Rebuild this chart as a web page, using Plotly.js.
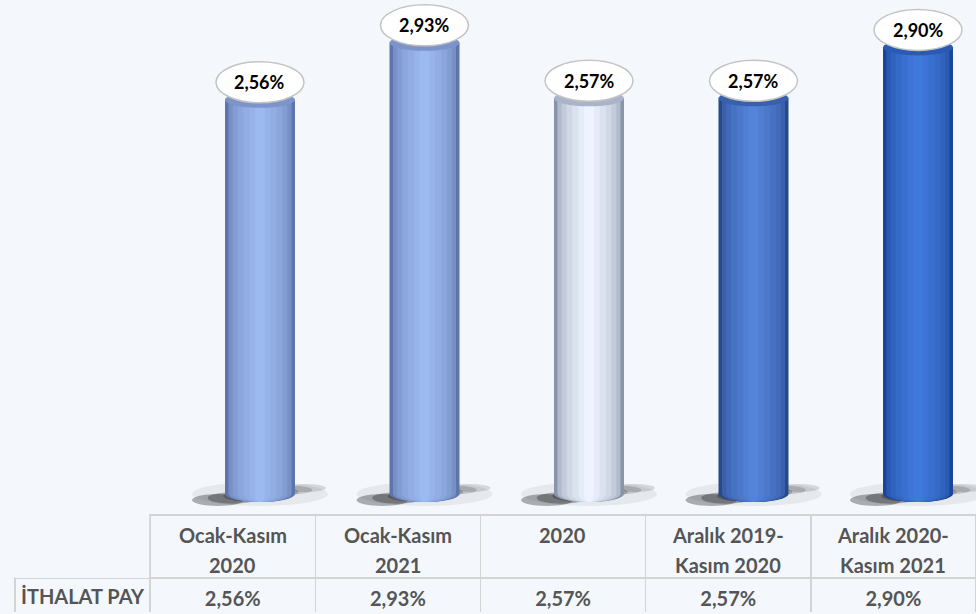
<!DOCTYPE html>
<html>
<head>
<meta charset="utf-8">
<script src="https://cdn.plot.ly/plotly-3.0.1.min.js"></script>
<style>html,body{margin:0;padding:0;background:#f4f8fd;}#chart{width:976px;height:614px;}</style>
</head>
<body>
<div id="chart"></div>
<script>
// ---- data ----
const categories = ['Ocak-Kasım<br>2020', 'Ocak-Kasım<br>2021', '2020', 'Aralık 2019-<br>Kasım 2020', 'Aralık 2020-<br>Kasım 2021'];
const values = [2.56, 2.93, 2.57, 2.57, 2.90];
const rowLabel = 'İTHALAT PAY';

// ---- styles ----
const edgeColors   = ['#5d75aa', '#5d75aa', '#8894aa', '#28488a', '#1b4596'];
const centerColors = ['#9dbaf0', '#9dbaf0', '#eef3ff', '#5483da', '#4079dc'];
const capColors    = ['#7c94ca', '#7c94ca', '#a9b4c9', '#3960ad', '#2a5ab6'];
const BG = '#f4f8fd';
const FONT = 'Lato, "Open Sans", sans-serif';
const TXT = '#555555';
const W = 976, H = 614;
const tableLeft = 15, firstCol = 135, colW = 165, headTop = 515, headH = 63, cellH = 35, lineGap = 30;

function hex2rgb(h){h=h.replace('#','');return [0,2,4].map(i=>parseInt(h.substr(i,2),16));}
function mix(a,b,t){const A=hex2rgb(a),B=hex2rgb(b);return 'rgb('+A.map((v,i)=>Math.round(v+(B[i]-v)*t)).join(',')+')';}
const fmt = v => v.toFixed(2).replace('.', ',') + '%';

const idx = categories.map((c, i) => i);
const barWidth = 0.4255;
const layerFracs = [1, 0.9, 0.78, 0.64, 0.48, 0.3, 0.14];

const traces = layerFracs.map((f, k) => {
  const t = k / (layerFracs.length - 1);
  return {
    type: 'bar', x: idx, y: values, width: barWidth * f,
    marker: {color: idx.map(i => mix(edgeColors[i], centerColors[i], Math.sqrt(t))), line: {width: 0}},
    hoverinfo: 'skip', showlegend: false
  };
});

traces.push({
  type: 'table',
  domain: {x: [tableLeft / W, 1], y: [(H - headTop - headH - cellH) / H, (H - headTop) / H]},
  columnwidth: [firstCol].concat(categories.map(() => colW)),
  header: {
    values: [''].concat(categories.map(() => '')),
    align: 'center', height: headH,
    fill: {color: BG},
    line: {color: ['rgba(0,0,0,0)'].concat(categories.map(() => '#d4d4d4')), width: 1.5},
    font: {family: FONT, size: 20, color: TXT}
  },
  cells: {
    values: [['']].concat(values.map(v => ['<b>' + fmt(v) + '</b>'])),
    align: 'center', height: cellH,
    fill: {color: BG},
    line: {color: '#d4d4d4', width: 1.5},
    font: {family: FONT, size: 20, color: TXT}
  }
});

const shapes = [];
const annotations = [];
function ell(i, yv, x0, x1, y0, y1, fill, layer, line) {
  return {type: 'circle', layer: layer, xref: 'x', yref: 'y', xsizemode: 'pixel', ysizemode: 'pixel',
    xanchor: i, yanchor: yv, x0: x0, x1: x1, y0: y0, y1: y1, fillcolor: fill,
    line: line || {width: 0}};
}
// row label of the table
annotations.push({xref: 'paper', yref: 'paper',
  x: (tableLeft + firstCol / 2) / W, y: 1 - (headTop + headH + cellH / 2) / H,
  xanchor: 'center', yanchor: 'middle', showarrow: false,
  text: '<b>' + rowLabel + '</b>', font: {family: FONT, size: 20, color: TXT}});

idx.forEach(i => {
  // soft slanted shadow
  shapes.push(ell(i, 0, -68, 68, -12, 12, 'rgba(0,0,0,0.06)', 'below'));
  for (let s = 0; s < 7; s++) {
    const t = s / 6;
    const cx = -42 + 88 * t, cy = -6 + 12 * t;
    const hw = 26 - 6 * t, hh = 6 - 2 * t;
    shapes.push(ell(i, 0, cx - hw, cx + hw, cy - hh, cy + hh, 'rgba(0,0,0,' + (0.3 - 0.17 * t).toFixed(3) + ')', 'below'));
  }
  // bottom ellipse of cylinder
  layerFracs.forEach((f, k) => {
    const t = k / (layerFracs.length - 1);
    shapes.push(ell(i, 0, -35 * f, 35 * f, -8, 8, mix(edgeColors[i], centerColors[i], Math.sqrt(t)), 'below'));
  });
  // top cap
  shapes.push(ell(i, values[i], -35, 35, -8, 8, capColors[i], 'above'));
  // label ellipse
  shapes.push(ell(i, values[i], -44, 44, -3, 38, '#ffffff', 'above', {color: '#c4c4c4', width: 1.5}));
  annotations.push({x: i, y: values[i], xref: 'x', yref: 'y', yshift: 17.5, showarrow: false,
    text: '<b>' + fmt(values[i]) + '</b>', font: {family: FONT, size: 18, color: '#000000'}});
  // table header text, each line centred
  categories[i].split('<br>').forEach((line, k) => {
    annotations.push({xref: 'paper', yref: 'paper',
      x: (tableLeft + firstCol + colW * i + colW / 2) / W,
      y: 1 - (headTop + 20 + lineGap * k) / H,
      xanchor: 'center', yanchor: 'middle', showarrow: false,
      text: '<b>' + line + '</b>', font: {family: FONT, size: 20, color: TXT}});
  });
});

const layout = {
  width: W, height: H,
  margin: {l: 0, r: 0, t: 0, b: 0},
  paper_bgcolor: BG, plot_bgcolor: BG,
  barmode: 'overlay',
  xaxis: {visible: false, range: [-1.5805, 4.3526], fixedrange: true},
  yaxis: {visible: false, range: [-0.779, 3.208], fixedrange: true},
  shapes: shapes, annotations: annotations,
  showlegend: false
};
Plotly.newPlot('chart', traces, layout, {displayModeBar: false, staticPlot: true});
</script>
</body>
</html>
